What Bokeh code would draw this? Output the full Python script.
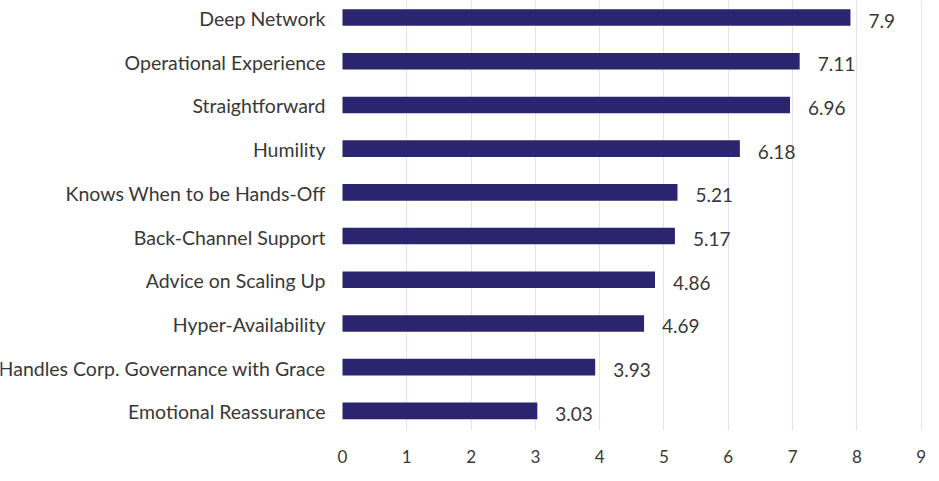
from bokeh.plotting import figure
from bokeh.models import ColumnDataSource, Range1d, FixedTicker
from bokeh.core.properties import value
from bokeh.embed import file_html
from bokeh.resources import INLINE

categories = [
    "Emotional Reassurance",
    "Handles Corp. Governance with Grace",
    "Hyper-Availability",
    "Advice on Scaling Up",
    "Back-Channel Support",
    "Knows When to be Hands-Off",
    "Humility",
    "Straightforward",
    "Operational Experience",
    "Deep Network",
]
values = [3.03, 3.93, 4.69, 4.86, 5.17, 5.21, 6.18, 6.96, 7.11, 7.9]
value_labels = ["3.03", "3.93", "4.69", "4.86", "5.17", "5.21", "6.18", "6.96", "7.11", "7.9"]
x_ticks = [0, 1, 2, 3, 4, 5, 6, 7, 8, 9]

FONT = "Lato"
TEXT = "#383838"
BAR = "#2b246f"

pos = list(range(len(categories)))
zeros = [0] * len(categories)
src = ColumnDataSource(dict(y=pos, v=values, cat=categories, lab=value_labels, z=zeros))

p = figure(
    width=939, height=481,
    output_backend="svg", toolbar_location=None,
    x_range=Range1d(-5.319, 9.207), y_range=Range1d(-0.45, 9.39),
    min_border_left=0, min_border_right=5, min_border_top=0, min_border_bottom=51,
)
p.outline_line_color = None
p.background_fill_color = "white"
p.border_fill_color = "white"

p.hbar(y="y", left=0, right="v", height=0.38, source=src, fill_color=BAR, line_color=None)

p.yaxis.visible = False
p.ygrid.grid_line_color = None
p.xgrid.grid_line_color = "#e2e2f2"
p.xgrid.grid_line_width = 1
p.xgrid.ticker = FixedTicker(ticks=x_ticks[1:])
p.xaxis.ticker = FixedTicker(ticks=x_ticks)
p.xaxis.axis_line_color = None
p.xaxis.major_tick_line_color = None
p.xaxis.minor_tick_line_color = None
p.xaxis.major_label_standoff = 13
p.xaxis.major_label_text_font = FONT
p.xaxis.major_label_text_font_size = "17px"
p.xaxis.major_label_text_color = TEXT

p.text(x="z", y="y", text="cat", source=src, x_offset=-17, y_offset=1,
       text_align="right", text_baseline="middle",
       text_font=value(FONT), text_font_size="19.5px", text_color=TEXT)
p.text(x="v", y="y", text="lab", source=src, x_offset=18, y_offset=3,
       text_align="left", text_baseline="middle",
       text_font=value(FONT), text_font_size="19px", text_color=TEXT)

open("out.html", "w").write(file_html(p, INLINE))
